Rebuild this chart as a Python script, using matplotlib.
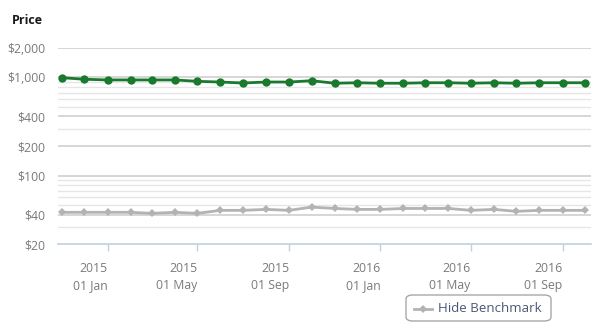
import numpy as np
import pandas as pd
import matplotlib
matplotlib.use("Agg")
import matplotlib.pyplot as plt
import matplotlib.dates as mdates
from matplotlib.patches import FancyBboxPatch
from matplotlib.lines import Line2D
from matplotlib.ticker import FixedLocator, NullFormatter

plt.rcParams['font.family'] = ['Open Sans', 'DejaVu Sans']

# Data (monthly)
months = pd.date_range("2014-11-01", "2016-10-01", freq="MS")
fund = [990, 955, 940, 940, 940, 940, 910, 895, 875, 895, 895, 923,
        870, 880, 870, 870, 880, 880, 870, 880, 870, 880, 880, 880]
benchmark = [42.3, 42.3, 42.3, 42.3, 41.3, 42.3, 41.3, 44.3, 44.3, 45.3, 44.3, 47.8,
             46.3, 45.3, 45.3, 46.3, 46.3, 46.3, 44.3, 45.3, 43.3, 44.3, 44.3, 44.3]

y_major = [20, 40, 100, 200, 400, 1000, 2000]
y_labels = ["$20", "$40", "$100", "$200", "$400", "$1,000", "$2,000"]
y_minor = [30, 50, 60, 70, 80, 90, 300, 500, 600, 700, 800, 900]

x_ticks = pd.to_datetime(["2015-01-01", "2015-05-01", "2015-09-01",
                          "2016-01-01", "2016-05-01", "2016-09-01"])
x_labels = ["2015\n01 Jan", "2015\n01 May", "2015\n01 Sep",
            "2016\n01 Jan", "2016\n01 May", "2016\n01 Sep"]

fig = plt.figure(figsize=(6, 3.28), dpi=100)
ax = fig.add_axes([58 / 600, 1 - 244.3 / 328, (591 - 58) / 600, (244.3 - 47.7) / 328])

ax.set_yscale("log")
ax.set_ylim(20, 2000)
ax.set_xlim(mdates.date2num(pd.Timestamp("2014-10-26 14:00")),
            mdates.date2num(pd.Timestamp("2016-10-09")))

# grid lines
for v in y_minor:
    ax.axhline(v, color="#e6e6e6", lw=1.0, zorder=0)
for v in y_major[1:]:
    ax.axhline(v, color="#d0d0d0", lw=1.2, zorder=0)

ax.plot(months, benchmark, color="#b3b3b3", lw=2, marker="D", markersize=4.2,
        markeredgewidth=0, zorder=3)
ax.plot(months, fund, color="#197a2e", lw=2, marker="o", markersize=6,
        markeredgewidth=0, zorder=4)

ax.yaxis.set_major_locator(FixedLocator(y_major))
ax.yaxis.set_minor_locator(FixedLocator(y_minor))
ax.yaxis.set_minor_formatter(NullFormatter())
ax.set_yticklabels(y_labels)
ax.tick_params(axis="y", which="both", length=0, pad=9, labelsize=8.8, labelcolor="#7a7a7a")

ax.set_xticks(x_ticks)
ax.set_xticklabels(x_labels, ha="right", multialignment="right", linespacing=1.4)
ax.tick_params(axis="x", length=5, width=1, color="#c0d0e0", pad=8,
               labelsize=8.8, labelcolor="#7a7a7a")

for side in ["top", "right", "left"]:
    ax.spines[side].set_visible(False)
ax.spines["bottom"].set_color("#c0d0e0")
ax.spines["bottom"].set_linewidth(1.2)

fig.text(12 / 600, 1 - 20 / 328, "Price", fontsize=9, fontweight="bold",
         color="#1a1a1a", va="center", ha="left")

# legend button
box = FancyBboxPatch((406 / 600, 1 - 321 / 328), 145 / 600, 26 / 328,
                     boxstyle="round,pad=0,rounding_size=0.012",
                     transform=fig.transFigure, facecolor="white",
                     edgecolor="#a8a8a8", lw=1.0)
fig.patches.append(box)
fig.lines.append(Line2D([414 / 600, 432 / 600], [1 - 308.5 / 328] * 2,
                        transform=fig.transFigure, color="#b3b3b3", lw=2))
fig.lines.append(Line2D([423 / 600], [1 - 308.5 / 328], transform=fig.transFigure,
                        color="#b3b3b3", marker="D", markersize=4.5, markeredgewidth=0))
fig.text(438 / 600, 1 - 308.5 / 328, "Hide Benchmark", fontsize=9.6,
         color="#4a5878", va="center", ha="left")

fig.savefig("out.png", dpi=100)
